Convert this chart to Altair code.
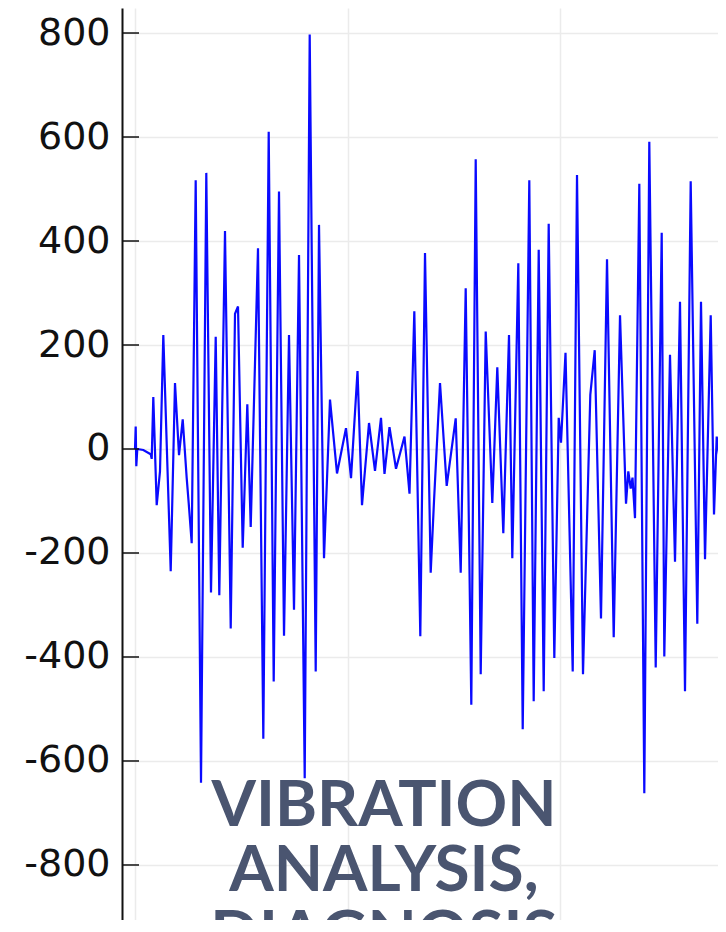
import altair as alt
import pandas as pd

# time (arbitrary units, grid every 100) and vibration amplitude
t_vals = [0, 0.33, 0.61, 1.08, 3.91, 7.39, 7.86, 8.61, 10.21, 11.76, 13.32, 16.80, 18.82, 20.71,
          22.45, 24.33, 25.27, 26.68, 28.56, 31.06, 33.55, 35.76, 37.98, 39.67, 42.35, 45.04,
          47.06, 48.47, 50.68, 52.85, 54.45, 57.88, 60.38, 62.92, 65.27, 67.76, 70.12, 72.47,
          74.82, 77.18, 79.86, 82.21, 85.04, 86.59, 88.94, 91.76, 95.06, 99.29, 101.65, 104.71,
          106.82, 110.12, 112.94, 115.76, 117.41, 119.76, 122.82, 126.82, 129.18, 131.44,
          134.26, 136.47, 139.15, 140.71, 143.53, 146.68, 150.92, 153.27, 155.62, 158.26,
          160.33, 162.68, 165.04, 168.14, 170.49, 173.32, 176.0, 177.55, 180.38, 182.45,
          185.55, 187.62, 189.98, 192.33, 194.68, 197.32, 199.39, 200.47, 202.59, 205.98,
          208.0, 210.82, 214.26, 216.33, 219.29, 222.12, 225.27, 228.24, 231.06, 232.14,
          233.27, 234.12, 235.29, 237.32, 239.67, 242.02, 245.04, 247.86, 249.08, 251.76,
          254.12, 256.47, 258.82, 261.5, 264.61, 266.35, 268.24, 270.92, 272.47, 273.74,
          274.96, 276.85, 278.59, 280.0]
amp_vals = [0, 43, -33, 0, -2, -10, -19, 100, -108, -43, 219, -235, 127, -12,
            57, -56, -104, -181, 517, -642, 531, -276, 216, -281, 419, -345,
            260, 274, -190, 86, -150, 386, -557, 610, -447, 495, -359, 219,
            -309, 373, -633, 797, -428, 431, -210, 95, -47, 40, -56, 150,
            -108, 50, -42, 60, -48, 42, -38, 24, -86, 265,
            -360, 377, -238, -100, 127, -71, 59, -238, 309, -492,
            557, -433, 226, -104, 157, -162, 219, -210, 357, -539,
            517, -485, 383, -466, 433, -402, 60, 12, 185, -428,
            527, -433, 104, 190, -326, 365, -362, 257, -105, -43,
            -76, -55, -133, 510, -662, 591, -420, 416, -399, 181,
            -217, 283, -466, 515, -336, 283, -212, 257, -126, 24,
            -14, -90, 160, 260]

y_ticks = [-800, -600, -400, -200, 0, 200, 400, 600, 800]
x_grid = [0, 100, 200]
title_lines = ["VIBRATION", "ANALYSIS,", "DIAGNOSIS"]

df = pd.DataFrame({"t": t_vals, "a": amp_vals})
tick_df = pd.DataFrame({"v": y_ticks})

xscale = alt.Scale(domain=[-6.12, 274.35], nice=False, zero=False)
yscale = alt.Scale(domain=[-905.8, 848.1], nice=False, zero=False)

line = alt.Chart(df).mark_line(color="#0a0aff", strokeWidth=2.2, clip=True).encode(
    x=alt.X("t:Q", scale=xscale,
            axis=alt.Axis(values=x_grid, labels=False, ticks=False, domain=False,
                          grid=True, title=None, gridColor="#ebebeb", gridWidth=1.5)),
    y=alt.Y("a:Q", scale=yscale,
            axis=alt.Axis(values=y_ticks, title=None, ticks=False, tickSize=0,
                          labelPadding=12, labelFont="DejaVu Sans", labelFontSize=38,
                          labelColor="#111111",
                          labelExpr="datum.value < 0 ? '-' + abs(datum.value) : '' + datum.value",
                          domain=True, domainColor="#111111", domainWidth=2,
                          grid=True, gridColor="#ebebeb", gridWidth=1.5)),
)

ticks = alt.Chart(tick_df).mark_rule(color="#111111", strokeWidth=1.5).encode(
    y=alt.Y("v:Q", scale=yscale),
    x=alt.value(0),
    x2=alt.value(17),
)

title = alt.Chart(pd.DataFrame({"k": [0]})).mark_text(
    font="Lato", fontWeight="bold", fontSize=64, color="#4a5570",
    align="center", baseline="top", lineBreak="\n", lineHeight=65, clip=True,
).encode(
    x=alt.value(262),
    y=alt.value(767),
    text=alt.value("\n".join(title_lines)),
)

chart = alt.layer(line, ticks, title).properties(
    width=596, height=912, autosize="none",
    padding={"left": 114, "top": 0, "right": 0, "bottom": 0},
    background="white",
).configure_view(stroke=None)

chart.save("out.html", embed_options={"renderer": "svg", "actions": False})
